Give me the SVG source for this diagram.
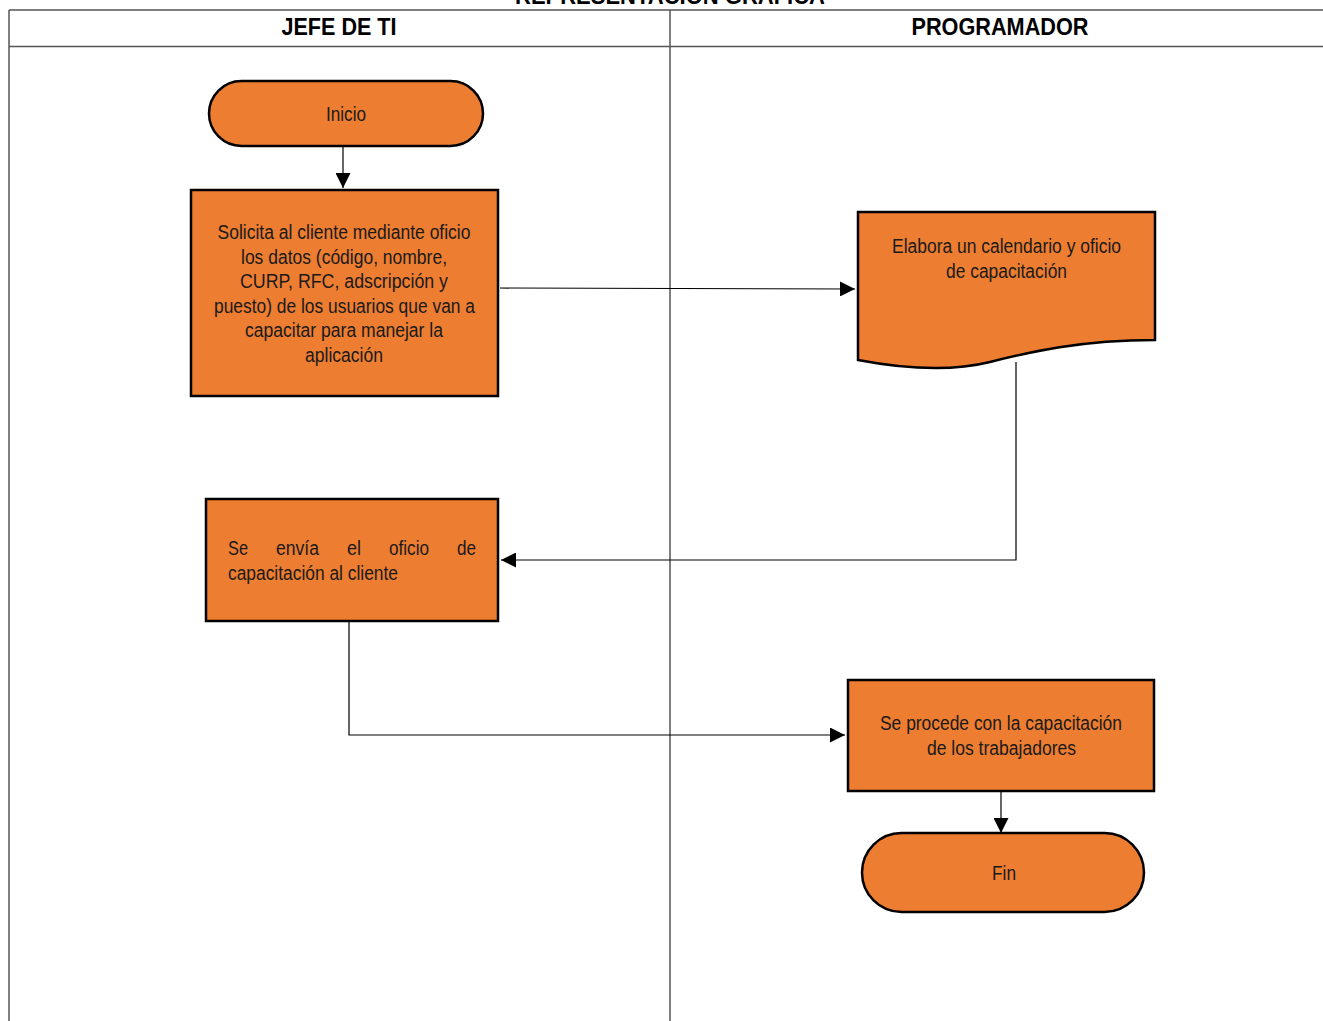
<svg xmlns="http://www.w3.org/2000/svg" width="1323" height="1021" viewBox="0 0 1323 1021">
<style>
.t{font-family:"Liberation Sans","Arial",sans-serif;font-size:20px;fill:#1a1a1a;text-anchor:middle}
.s{text-anchor:start}
.h{font-family:"Liberation Sans","Arial",sans-serif;font-size:23px;font-weight:bold;fill:#000;text-anchor:middle}
.n{fill:#ED7D31;stroke:#000;stroke-width:2.5}
.c{fill:none;stroke:#000;stroke-width:1.2}
.g{stroke:#555;stroke-width:1.5;fill:none}
</style>
<defs>
<marker id="a" viewBox="0 0 10 10" refX="10" refY="5" markerWidth="15" markerHeight="15" markerUnits="userSpaceOnUse" orient="auto"><path d="M0,0 L10,5 L0,10 z" fill="#000"/></marker>
</defs>
<rect width="1323" height="1021" fill="#fff"/>
<g id="frame">
<line class="g" x1="9" y1="10" x2="1323" y2="10"/>
<line class="g" x1="9" y1="10" x2="9" y2="1021"/>
<line class="g" x1="9" y1="46.5" x2="1323" y2="46.5"/>
<line class="g" x1="670" y1="10" x2="670" y2="1021"/>
<text class="h" x="670" y="4" textLength="310" lengthAdjust="spacingAndGlyphs">REPRESENTACIÓN GRÁFICA</text>
<text class="h" x="339" y="35" textLength="115" lengthAdjust="spacingAndGlyphs">JEFE DE TI</text>
<text class="h" x="1000" y="35" textLength="177" lengthAdjust="spacingAndGlyphs">PROGRAMADOR</text>
</g>
<g id="connectors">
<line class="c" x1="343" y1="147" x2="343" y2="188" marker-end="url(#a)"/>
<line class="c" x1="500" y1="288" x2="855" y2="289" marker-end="url(#a)"/>
<polyline class="c" points="1016,362 1016,560 501,560" marker-end="url(#a)"/>
<polyline class="c" points="349,622 349,735 845,735" marker-end="url(#a)"/>
<line class="c" x1="1001" y1="792" x2="1001" y2="833" marker-end="url(#a)"/>
</g>
<g id="inicio">
<rect class="n" x="209" y="81" width="274" height="65" rx="32.5"/>
<text class="t" x="346" y="121" textLength="40" lengthAdjust="spacingAndGlyphs">Inicio</text>
</g>
<g id="solicita">
<rect class="n" x="191" y="190" width="307" height="206"/>
<text class="t" x="344" y="239" textLength="253" lengthAdjust="spacingAndGlyphs">Solicita al cliente mediante oficio</text>
<text class="t" x="344" y="264" textLength="206" lengthAdjust="spacingAndGlyphs">los datos (código, nombre,</text>
<text class="t" x="344" y="288" textLength="208" lengthAdjust="spacingAndGlyphs">CURP, RFC, adscripción y</text>
<text class="t" x="344.5" y="313" textLength="261" lengthAdjust="spacingAndGlyphs">puesto) de los usuarios que van a</text>
<text class="t" x="344" y="337" textLength="198" lengthAdjust="spacingAndGlyphs">capacitar para manejar la</text>
<text class="t" x="344" y="362" textLength="78" lengthAdjust="spacingAndGlyphs">aplicación</text>
</g>
<g id="elabora">
<path class="n" d="M858,212 L1155,212 L1155,340 C1080,340 1030,352 990,362 C950,372 900,368 858,360 Z"/>
<text class="t" x="1006.5" y="253" textLength="229" lengthAdjust="spacingAndGlyphs">Elabora un calendario y oficio</text>
<text class="t" x="1006.5" y="278" textLength="121" lengthAdjust="spacingAndGlyphs">de capacitación</text>
</g>
<g id="envia">
<rect class="n" x="206" y="499" width="292" height="122"/>
<text class="t s" x="228" y="555" textLength="20" lengthAdjust="spacingAndGlyphs">Se</text>
<text class="t s" x="276" y="555" textLength="43" lengthAdjust="spacingAndGlyphs">envía</text>
<text class="t s" x="347" y="555" textLength="14" lengthAdjust="spacingAndGlyphs">el</text>
<text class="t s" x="389" y="555" textLength="40" lengthAdjust="spacingAndGlyphs">oficio</text>
<text class="t s" x="457" y="555" textLength="19" lengthAdjust="spacingAndGlyphs">de</text>
<text class="t s" x="228" y="580" textLength="170" lengthAdjust="spacingAndGlyphs">capacitación al cliente</text>
</g>
<g id="procede">
<rect class="n" x="848" y="680" width="306" height="111"/>
<text class="t" x="1001" y="730" textLength="242" lengthAdjust="spacingAndGlyphs">Se procede con la capacitación</text>
<text class="t" x="1001.5" y="755" textLength="149" lengthAdjust="spacingAndGlyphs">de los trabajadores</text>
</g>
<g id="fin">
<rect class="n" x="862" y="833" width="282" height="79" rx="39.5"/>
<text class="t" x="1004" y="880" textLength="24" lengthAdjust="spacingAndGlyphs">Fin</text>
</g>
</svg>
